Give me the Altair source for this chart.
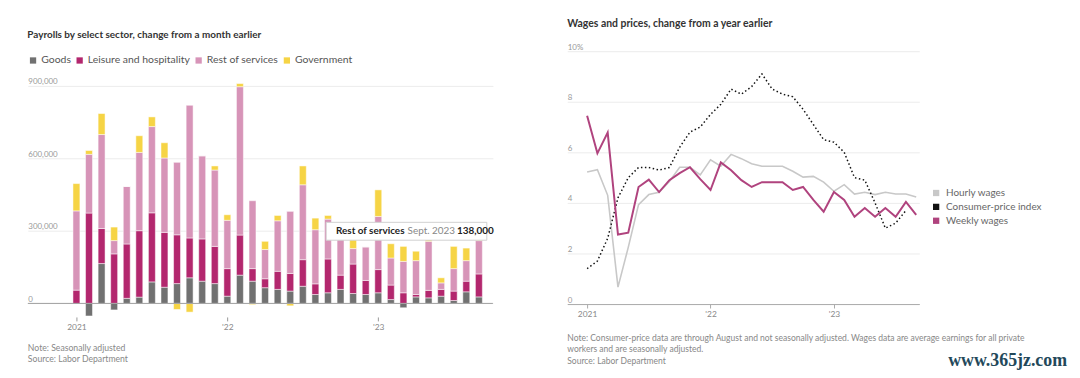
import altair as alt
import pandas as pd

FONT = "Lato"

# ---------------- data ----------------
months = ["Jan 2021", "Feb 2021", "Mar 2021", "Apr 2021", "May 2021", "Jun 2021",
          "Jul 2021", "Aug 2021", "Sep 2021", "Oct 2021", "Nov 2021", "Dec 2021",
          "Jan 2022", "Feb 2022", "Mar 2022", "Apr 2022", "May 2022", "Jun 2022",
          "Jul 2022", "Aug 2022", "Sep 2022", "Oct 2022", "Nov 2022", "Dec 2022",
          "Jan 2023", "Feb 2023", "Mar 2023", "Apr 2023", "May 2023", "Jun 2023",
          "Jul 2023", "Aug 2023", "Sept 2023"]

sectors = ["Goods", "Leisure and hospitality", "Rest of services", "Government"]
sector_colors = ["#717171", "#b3276e", "#d794b8", "#f6d445"]

# thousands of jobs
goods = [0, -52, 165, -27, 21, 26, 89, 67, 82, 106, 92, 82,
         30, 117, 92, 65, 58, 51, 71, 37, 44, 58, 41, 37,
         44, 16, -18, 27, 23, 30, 12, 48, 27]
leisure = [55, 374, 145, 205, 225, 275, 286, 227, 202, 165, 175, 154,
           114, 166, 52, 37, 75, 73, 110, 44, 140, 59, 122, 58,
           96, 60, 44, 10, 31, 28, 39, 44, 95]
rest = [328, 243, 389, 55, 238, 324, 357, 308, 300, 549, 344, 316,
        200, 614, 281, 121, 209, 257, 310, 224, 165, 190, 64, 139,
        220, 112, 130, 140, 203, 27, 93, 85, 138]
government = [113, 16, 87, 56, 0, 69, 40, 63, -25, -36, 0, 17,
              23, 13, -5, 34, 22, -10, 78, 48, 15, 10, 57, 0,
              110, 59, 62, 39, 27, 21, 92, 52, 14]

left_tick_pos = [0, 12, 24]
left_tick_labels = ["2021", "'22", "'23"]
left_y_ticks = [0, 300000, 600000, 900000]

tooltip_parts = ["Rest of services", "Sept. 2023", "138,000"]

series_names = ["Hourly wages", "Consumer-price index", "Weekly wages"]
series_colors = ["#c8c8c8", "#111111", "#b0437e"]

hourly = [5.22, 5.31, 4.30, 0.67, 2.24, 3.93, 4.33, 4.42, 4.85, 5.41, 5.41, 5.11,
          5.70, 5.45, 5.92, 5.75, 5.55, 5.45, 5.45, 5.45, 5.25, 5.02, 5.05, 4.82,
          4.46, 4.72, 4.35, 4.42, 4.33, 4.42, 4.35, 4.35, 4.23]
cpi = [1.4, 1.7, 2.6, 4.2, 5.0, 5.4, 5.4, 5.3, 5.4, 6.2, 6.8, 7.0,
       7.5, 7.9, 8.5, 8.3, 8.6, 9.1, 8.5, 8.3, 8.2, 7.7, 7.1, 6.5,
       6.4, 6.0, 5.0, 4.9, 4.0, 3.0, 3.2, 3.7]
weekly = [7.45, 5.96, 6.78, 2.75, 2.82, 4.63, 4.92, 4.43, 4.90, 5.18, 5.41, 4.94,
          4.51, 5.60, 5.29, 4.90, 4.63, 4.82, 4.82, 4.82, 4.51, 4.63, 4.12, 3.65,
          4.43, 4.12, 3.45, 3.80, 3.45, 3.80, 3.45, 4.04, 3.53]

right_y_ticks = [0, 2, 4, 6, 8, 10]

left_title = "Payrolls by select sector, change from a month earlier"
right_title = "Wages and prices, change from a year earlier"
left_notes = ["Note: Seasonally adjusted", "Source: Labor Department"]
right_notes = ["Note: Consumer-price data are through August and not seasonally adjusted. Wages data are average earnings for all private",
               "workers and are seasonally adjusted.",
               "Source: Labor Department"]
watermark = "www.365jz.com"


def label_expr(pos, labels):
    expr = "''"
    for p, l in reversed(list(zip(pos, labels))):
        expr = f"datum.value == {p} ? \"{l}\" : ({expr})"
    return expr


# ---------------- left chart ----------------
rows = []
for i, m in enumerate(months):
    for k, (s, vals) in enumerate(zip(sectors, [goods, leisure, rest, government])):
        rows.append({"idx": i, "month": m, "sector": s, "value": vals[i] * 1000, "ord": k})
bars_df = pd.DataFrame(rows)

last = len(months) - 1
stack_top = sum(max(v[last], 0) for v in [goods, leisure, rest, government]) * 1000
tip_df = pd.DataFrame([{"idx": last, "value": stack_top,
                        "label": tooltip_parts[0], "date": tooltip_parts[1], "val": tooltip_parts[2]}])

LW, LH = 469, 268
RW, RH = 355, 255

x_left_scale = alt.Scale(domain=[-3.47, 32.72], nice=False, zero=False)
y_left_scale = alt.Scale(domain=[-56000, 1044000], nice=False, zero=False)

x_left_axis = alt.Axis(values=left_tick_pos, labelExpr=label_expr(left_tick_pos, left_tick_labels),
                       grid=False, domain=False, tickSize=4, tickColor="#999",
                       labelColor="#888", labelFontSize=8.5, labelFont=FONT,
                       labelPadding=2, title=None)
y_left_axis = alt.Axis(values=left_y_ticks, labelExpr="format(datum.value, ',')", labelAlign="left",
                       labelBaseline="bottom", labelPadding=0,
                       ticks=False, tickSize=0, domain=False, grid=True,
                       gridColor="#ececec", labelColor="#999", labelFontSize=8,
                       labelFont=FONT, title=None)

x_left = alt.X("idx:Q", scale=x_left_scale, axis=x_left_axis)
y_left = alt.Y("value:Q", stack="zero", scale=y_left_scale, axis=y_left_axis)
y_left_nostack = alt.Y("value:Q", stack=None, scale=y_left_scale, axis=y_left_axis)

bars = alt.Chart(bars_df).mark_bar(size=7, stroke="white", strokeWidth=0.5).encode(
    x=x_left,
    y=y_left,
    color=alt.Color("sector:N", scale=alt.Scale(domain=sectors, range=sector_colors),
                    legend=alt.Legend(orient="none", legendX=0, legendY=4, direction="horizontal",
                                      title=None, symbolType="square", symbolSize=40,
                                      symbolStrokeWidth=0, labelFontSize=10.5, labelFont=FONT,
                                      labelColor="#555", labelOffset=3, columnPadding=3)),
    order=alt.Order("ord:Q", sort="ascending"),
)

zero_rule = alt.Chart(tip_df).mark_rule(color="#a0a0a0", strokeWidth=1).encode(
    y=alt.datum(0, scale=y_left_scale, axis=y_left_axis)
)

tip_box = alt.Chart(tip_df).mark_rect(fill="white", stroke="#d0d0d0", strokeWidth=1,
                                      xOffset=-154, x2Offset=8, yOffset=-15, y2Offset=3).encode(
    x=x_left, x2="idx:Q", y=y_left_nostack, y2="value:Q")


def tip_text(field, dx, weight, color):
    return alt.Chart(tip_df).mark_text(align="right", baseline="middle", dx=dx, dy=-6,
                                       font=FONT, fontSize=10, fontWeight=weight, color=color).encode(
        x=x_left, y=y_left_nostack, text=f"{field}:N")


tip_val = tip_text("val", 15, "bold", "#222")
tip_date = tip_text("date", -24, "normal", "#888")
tip_label = tip_text("label", -75, "bold", "#222")

left_note_layers = [
    alt.Chart(pd.DataFrame({"t": [t]})).mark_text(align="left", baseline="middle", font=FONT,
                                                  fontSize=8.75, color="#888").encode(
        x=alt.value(0), y=alt.value(299 + 11 * j), text="t:N")
    for j, t in enumerate(left_notes)
]

left = alt.layer(bars, zero_rule, tip_box, tip_val, tip_date, tip_label, *left_note_layers).properties(
    width=LW, height=LH,
    title=alt.TitleParams(left_title, anchor="start", font=FONT, fontSize=10, fontWeight="bold",
                          color="#333", offset=11.5),
)

# ---------------- right chart ----------------
x_right_scale = alt.Scale(domain=[-1.93, 32.30], nice=False, zero=False)
y_right_scale = alt.Scale(domain=[0, 10], nice=False)

x_right = alt.X("m:Q", scale=x_right_scale,
                axis=alt.Axis(values=left_tick_pos, labelExpr=label_expr(left_tick_pos, left_tick_labels),
                              grid=False, domain=True, domainColor="#aaa", tickSize=4, tickColor="#aaa",
                              labelColor="#888", labelFontSize=8.5, labelFont=FONT, labelPadding=2,
                              title=None))
y_right = alt.Y("v:Q", scale=y_right_scale,
                axis=alt.Axis(values=right_y_ticks, labelExpr="datum.value == 10 ? '10%' : datum.label",
                              labelAlign="left", labelBaseline="bottom", labelPadding=0,
                              ticks=False, tickSize=0, domain=False, grid=True, gridColor="#ececec",
                              labelColor="#999", labelFontSize=8, labelFont=FONT, title=None))


def series_df(vals):
    return pd.DataFrame({"m": list(range(len(vals))), "v": vals})


hourly_line = alt.Chart(series_df(hourly)).mark_line(color=series_colors[0], strokeWidth=1.6).encode(
    x=x_right, y=y_right)
cpi_line = alt.Chart(series_df(cpi)).mark_line(color=series_colors[1], strokeWidth=1.5,
                                               strokeDash=[1.5, 2.5]).encode(x=x_right, y=y_right)
weekly_line = alt.Chart(series_df(weekly)).mark_line(color=series_colors[2], strokeWidth=2).encode(
    x=x_right, y=y_right)

legend_layer = alt.Chart(pd.DataFrame({"series": series_names})).mark_square(opacity=0).encode(
    fill=alt.Fill("series:N", scale=alt.Scale(domain=series_names, range=series_colors),
                  legend=alt.Legend(orient="none", legendX=911, legendY=138, direction="vertical",
                                    title=None, symbolType="square", symbolSize=40, symbolOpacity=1,
                                    symbolStrokeWidth=0, labelFontSize=10, labelFont=FONT,
                                    labelColor="#666", labelOffset=5, rowPadding=4)))

right_note_layers = [
    alt.Chart(pd.DataFrame({"t": [t]})).mark_text(align="left", baseline="middle", font=FONT,
                                                  fontSize=8.6, color="#888").encode(
        x=alt.value(0), y=alt.value([289, 300, 312][j]), text="t:N")
    for j, t in enumerate(right_notes)
]
wm = alt.Chart(pd.DataFrame({"t": [watermark]})).mark_text(
    align="right", baseline="middle", font="Liberation Serif", fontSize=18, fontWeight="bold",
    color="#23485a").encode(x=alt.value(504), y=alt.value(312), text="t:N")

right = alt.layer(hourly_line, cpi_line, weekly_line, legend_layer, *right_note_layers, wm).properties(
    width=RW, height=RH,
    title=alt.TitleParams(right_title, anchor="start", font=FONT, fontSize=10.5, fontWeight="bold",
                          color="#333", offset=13.5),
)

chart = alt.hconcat(left, right, spacing=75, bounds="flush").resolve_scale(
    x="independent", y="independent"
).configure_view(stroke=None).properties(
    padding={"left": 19, "top": 10, "right": 5, "bottom": 5},
    background="white",
)

chart.save("out.html", embed_options={"renderer": "svg", "actions": False})
